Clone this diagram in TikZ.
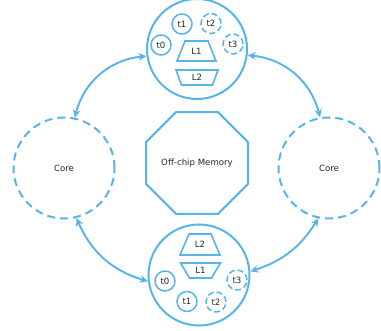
\documentclass[tikz,border=0pt]{standalone}
\usepackage{fontspec}
\setmainfont{DejaVu Sans}
\usetikzlibrary{shapes.geometric,arrows.meta}
\definecolor{sky}{HTML}{56B4E9}
\begin{document}
\begin{tikzpicture}[x=1pt,y=1pt,
  every node/.style={font=\fontsize{8.6}{10}\selectfont, text=black!85},
  big/.style={circle, draw=sky, line width=2pt, minimum size=100pt, inner sep=0pt},
  core/.style={big, dash pattern=on 8pt off 5pt},
  thread/.style={circle, draw=sky, line width=1.5pt, minimum size=20pt, inner sep=0pt},
  dthread/.style={thread, dash pattern=on 6pt off 3pt},
  label/.style={inner sep=0pt},
  cache/.style={draw=sky, line width=1.6pt, line join=miter},
  link/.style={draw=sky, line width=1.9pt, {Stealth[length=8pt,width=7.5pt,inset=2.5pt]}-{Stealth[length=8pt,width=7.5pt,inset=2.5pt]}}]
\useasboundingbox (0,0) rectangle (381,331);

\node[big] (topc) at (197,282) {};
\node[big, minimum size=101pt] (botc) at (199,56) {};
\node[core, minimum size=101pt] (lcore) at (64,163) {Core};
\node[core, minimum size=101pt] (rcore) at (329,163) {Core};
\node[regular polygon, regular polygon sides=8, minimum size=110pt, inner sep=0pt,
      draw=sky, line width=2pt] (mem) at (197,168) {Off-chip Memory};

% top cluster
\node[thread] (ta1) at (182,307) {t1};
\node[dthread] (ta2) at (211,307.5) {t2};
\node[thread] (ta0) at (161,286) {t0};
\node[dthread] (ta3) at (233,287) {t3};
\node[label] (tl1) at (196.5,280) {L1};
\draw[cache, shift={(tl1.center)}] (-19.5,-10) -- (19.5,-10) -- (11.5,10) -- (-11.5,10) -- cycle;
\node[label] (tl2) at (197,253.5) {L2};
\draw[cache, shift={(tl2.center)}] (-21,7.5) -- (21,7.5) -- (15.5,-7.5) -- (-15.5,-7.5) -- cycle;

% bottom cluster
\node[label] (bl2) at (200,86.5) {L2};
\draw[cache, shift={(bl2.center)}] (-20,-10.5) -- (20,-10.5) -- (11,10.5) -- (-11,10.5) -- cycle;
\node[label] (bl1) at (200.5,60.5) {L1};
\draw[cache, shift={(bl1.center)}] (-20,7.5) -- (20,7.5) -- (11,-7.5) -- (-11,-7.5) -- cycle;
\node[thread] (tb0) at (165,50) {t0};
\node[dthread] (tb3) at (237,51) {t3};
\node[thread] (tb1) at (187,29.5) {t1};
\node[dthread] (tb2) at (216,29) {t2};

% links
\draw[link] (topc.188) to[bend right=35] (lcore.78);
\draw[link] (topc.353) to[bend left=35] (rcore.100);
\draw[link] (lcore.284) to[bend right=25] (botc.187);
\draw[link] (rcore.258) to[bend left=20] (botc.4);
\end{tikzpicture}
\end{document}
